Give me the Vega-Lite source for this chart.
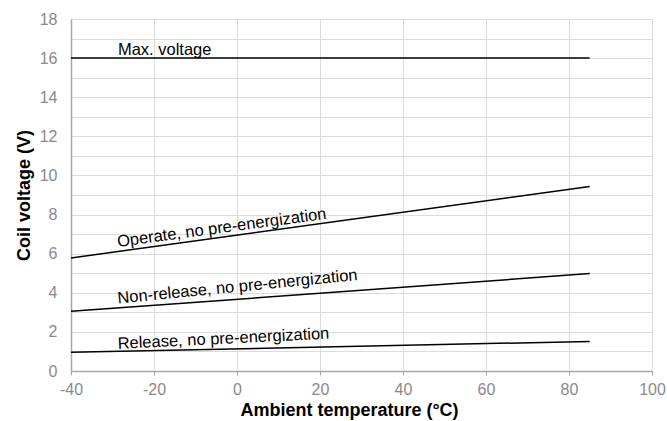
{
  "$schema": "https://vega.github.io/schema/vega-lite/v6.json",
  "width": 581,
  "height": 352,
  "autosize": "none",
  "padding": {"left": 71, "top": 19, "right": 15, "bottom": 50},
  "background": "white",
  "config": {"view": {"stroke": null}, "font": "Liberation Sans"},
  "datasets": {
    "lines": [
      {"series": "Max. voltage", "temp": -40, "voltage": 16},
      {"series": "Max. voltage", "temp": 85, "voltage": 16},
      {"series": "Operate", "temp": -40, "voltage": 5.78},
      {"series": "Operate", "temp": 85, "voltage": 9.44},
      {"series": "Non-release", "temp": -40, "voltage": 3.05},
      {"series": "Non-release", "temp": 85, "voltage": 4.98},
      {"series": "Release", "temp": -40, "voltage": 0.96},
      {"series": "Release", "temp": 85, "voltage": 1.51}
    ],
    "labels": [
      {"key": "max", "text": "Max. voltage", "temp": -28.7, "voltage": 16.16},
      {"key": "operate", "text": "Operate, no pre-energization", "temp": -28.7, "voltage": 6.34},
      {"key": "nonrelease", "text": "Non-release, no pre-energization", "temp": -28.7, "voltage": 3.45},
      {"key": "release", "text": "Release, no pre-energization", "temp": -28.7, "voltage": 1.13}
    ]
  },
  "encoding": {
    "x": {
      "field": "temp",
      "type": "quantitative",
      "scale": {"domain": [-40, 100], "nice": false, "zero": false},
      "axis": {
        "title": "Ambient temperature (°C)",
        "values": [-40, -20, 0, 20, 40, 60, 80, 100],
        "labelExpr": "toString(datum.value)",
        "grid": true,
        "gridColor": "#dcdcdc",
        "domainColor": "#a6a6a6",
        "domainWidth": 1.5,
        "tickColor": "#a6a6a6",
        "tickSize": 4,
        "labelColor": "#8a8a8a",
        "labelFont": "Liberation Sans",
        "labelFontSize": 16,
        "labelPadding": 6,
        "labelFlush": false,
        "labelOverlap": false,
        "titleFont": "Liberation Sans",
        "titleFontSize": 18,
        "titleFontWeight": "bold",
        "titleColor": "black",
        "titlePadding": 4,
        "titleX": 278
      }
    },
    "y": {
      "field": "voltage",
      "type": "quantitative",
      "scale": {"domain": [0, 18], "nice": false},
      "axis": {
        "title": "Coil voltage (V)",
        "values": [0, 1, 2, 3, 4, 5, 6, 7, 8, 9, 10, 11, 12, 13, 14, 15, 16, 17, 18],
        "labelExpr": "datum.value % 2 === 0 ? toString(datum.value) : ''",
        "labelOverlap": false,
        "grid": true,
        "gridColor": "#dcdcdc",
        "domainColor": "#a6a6a6",
        "domainWidth": 1.5,
        "ticks": false,
        "labelColor": "#8a8a8a",
        "labelFont": "Liberation Sans",
        "labelFontSize": 16,
        "labelPadding": 14,
        "titleFont": "Liberation Sans",
        "titleFontSize": 18,
        "titleFontWeight": "bold",
        "titleColor": "black",
        "titlePadding": 6
      }
    }
  },
  "layer": [
    {
      "data": {"name": "lines"},
      "mark": {"type": "line", "color": "black", "strokeWidth": 1.5},
      "encoding": {
        "detail": {"field": "series"}
      }
    },
    {
      "data": {"name": "labels"},
      "transform": [{"filter": "datum.key === 'max'"}],
      "mark": {"type": "text", "align": "left", "baseline": "alphabetic", "fontSize": 16.5, "font": "Liberation Sans", "color": "black"},
      "encoding": {"text": {"field": "text"}}
    },
    {
      "data": {"name": "labels"},
      "transform": [{"filter": "datum.key === 'operate'"}],
      "mark": {"type": "text", "align": "left", "baseline": "alphabetic", "fontSize": 16.5, "font": "Liberation Sans", "color": "black", "angle": -7.7},
      "encoding": {"text": {"field": "text"}}
    },
    {
      "data": {"name": "labels"},
      "transform": [{"filter": "datum.key === 'nonrelease'"}],
      "mark": {"type": "text", "align": "left", "baseline": "alphabetic", "fontSize": 16.5, "font": "Liberation Sans", "color": "black", "angle": -5.6},
      "encoding": {"text": {"field": "text"}}
    },
    {
      "data": {"name": "labels"},
      "transform": [{"filter": "datum.key === 'release'"}],
      "mark": {"type": "text", "align": "left", "baseline": "alphabetic", "fontSize": 16.5, "font": "Liberation Sans", "color": "black", "angle": -2.8},
      "encoding": {"text": {"field": "text"}}
    }
  ]
}
